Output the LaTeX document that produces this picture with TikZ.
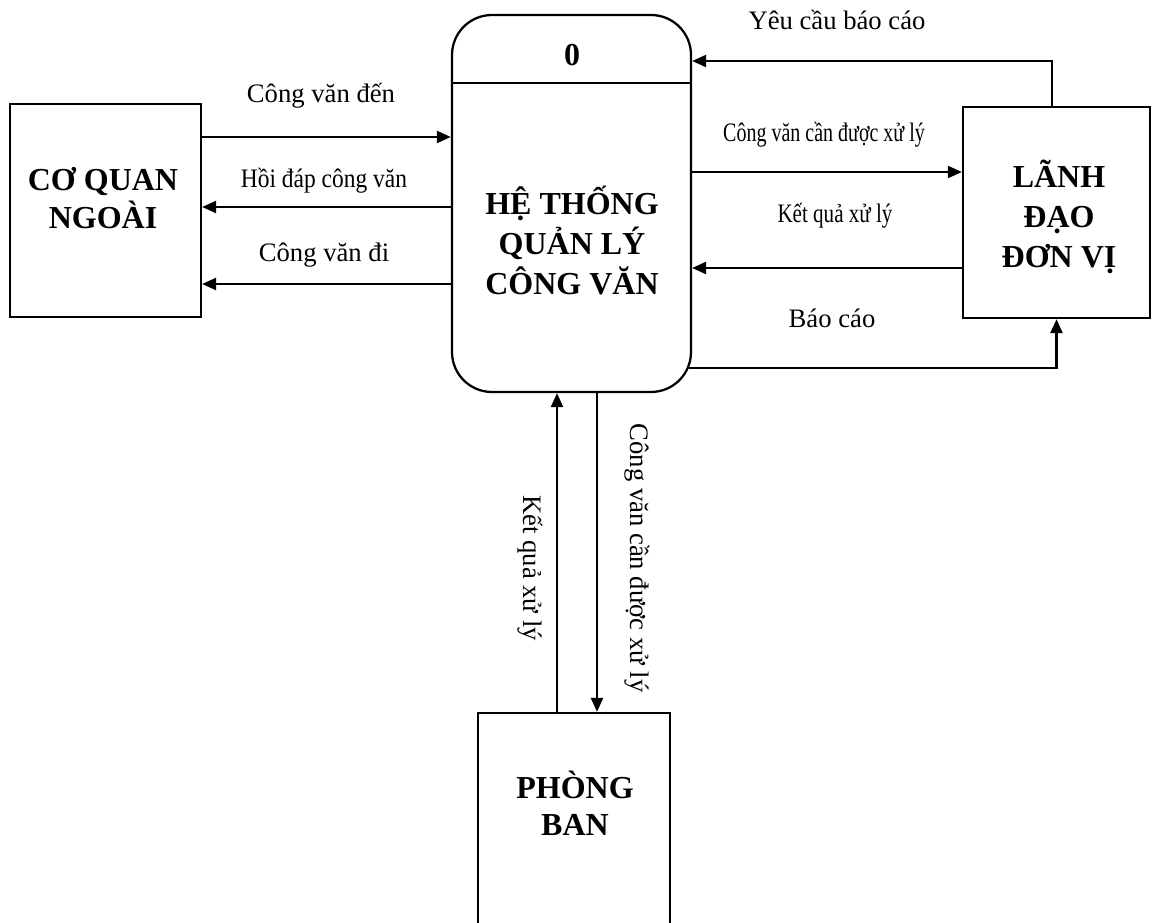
\documentclass[tikz,border=0pt]{standalone}
\usepackage{fontspec}
\setmainfont{Liberation Serif}
\usepackage{graphicx}
\usetikzlibrary{arrows.meta,calc}

\begin{document}
\begin{tikzpicture}[x=0.75pt,y=-0.75pt,line width=1.7pt,
  flow/.style={-{Triangle[length=10.5pt,width=9pt]}},
  ent/.style={draw,rectangle,inner sep=0pt},
  big/.style={font=\fontsize{24}{30}\selectfont\bfseries,align=center,inner sep=0pt},
  lbl/.style={font=\fontsize{20}{24}\selectfont,inner sep=0pt}]
  \path[use as bounding box,clip] (0,0) rectangle (1152,923);
  \node[ent,minimum width=143.25pt,minimum height=159.75pt] (cq) at (105.5,210.5) {};
  \node[ent,rounded corners=30pt,minimum width=179.25pt,minimum height=282.75pt] (ht) at (571.5,203.5) {};
  \node[ent,minimum width=140.25pt,minimum height=158.25pt] (ld) at (1056.5,212.5) {};
  \node[ent,minimum width=144pt,minimum height=187.5pt] (pb) at (574,838) {};
  \draw (ht.west |- 0,83) -- (ht.east |- 0,83);
  \node[big] (so) at (572,55) {0};
  \node[big,font=\fontsize{24}{28}\selectfont\bfseries] (cqt) at (103,198) {CƠ QUAN\\NGOÀI};
  \node[big] (htt) at (572,240) {HỆ THỐNG\\QUẢN LÝ\\CÔNG VĂN};
  \node[big] (ldt) at (1059,217) {LÃNH\\ĐẠO\\ĐƠN VỊ};
  \node[big,font=\fontsize{24}{28}\selectfont\bfseries] (pbt) at (575,803) {PHÒNG\\BAN};
  \draw[flow] (cq.east |- 0,137) -- (ht.west |- 0,137);
  \draw[flow] (ht.west |- 0,207) -- (cq.east |- 0,207);
  \draw[flow] (ht.west |- 0,284) -- (cq.east |- 0,284);
  \draw[flow] (ld.north -| 1052,0) |- (ht.east |- 0,61);
  \draw[flow] (ht.east |- 0,172) -- (ld.west |- 0,172);
  \draw[flow] (ld.west |- 0,268) -- (ht.east |- 0,268);
  \draw[flow] (ht.east |- 0,368) ++(-3,0) -| (ld.south);
  \draw[flow] (pb.north -| 557,0) -- (ht.south -| 557,0);
  \draw[flow] (ht.south -| 597,0) -- (pb.north -| 597,0);
  \node[lbl] (l1) at (321,96) {Công văn đến};
  \node[lbl] (l2) at (324,181) {\scalebox{0.88}[1]{Hồi đáp công văn}};
  \node[lbl] (l3) at (324,255) {Công văn đi};
  \node[lbl] (l4) at (837,20) {Yêu cầu báo cáo};
  \node[lbl] (l5) at (824,135) {\scalebox{0.75}[1]{Công văn cần được xử lý}};
  \node[lbl] (l6) at (835,216) {\scalebox{0.79}[1]{Kết quả xử lý}};
  \node[lbl] (l7) at (832,318) {Báo cáo};
  \node[lbl,rotate=-90] (l8) at (530,568) {Kết quả xử lý};
  \node[lbl,rotate=-90] (l9) at (637,558) {Công văn cần được xử lý};
\end{tikzpicture}
\end{document}
